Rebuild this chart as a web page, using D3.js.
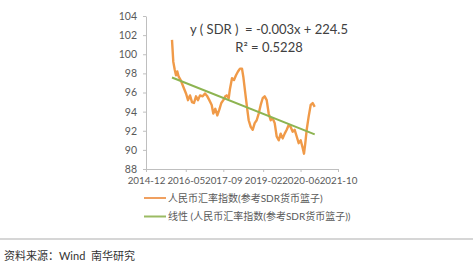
<!DOCTYPE html>
<html><head><meta charset="utf-8">
<script src="https://cdn.jsdelivr.net/npm/d3@7"></script>
<style>
html,body{margin:0;padding:0;background:#fff;}
svg{display:block;font-family:Lato,"Noto Sans CJK SC",sans-serif;}
</style></head>
<body><svg id="c" width="473" height="267"></svg>
<script>
const dates = ["2015-11-04","2015-11-21","2015-12-09","2015-12-26","2016-01-12","2016-01-30","2016-02-25","2016-03-30","2016-05-04","2016-05-30","2016-06-25","2016-07-21","2016-08-16","2016-09-11","2016-10-07","2016-11-02","2016-12-07","2017-01-06","2017-02-05","2017-03-03","2017-04-03","2017-04-24","2017-05-20","2017-06-15","2017-07-11","2017-08-06","2017-09-01","2017-09-27","2017-10-15","2017-11-10","2017-11-27","2017-12-23","2018-01-18","2018-02-13","2018-03-11","2018-04-06","2018-05-02","2018-05-19","2018-06-14","2018-07-10","2018-07-28","2018-08-23","2018-09-18","2018-10-14","2018-11-09","2018-12-05","2018-12-31","2019-01-26","2019-02-21","2019-03-19","2019-04-14","2019-05-10","2019-06-05","2019-07-01","2019-07-27","2019-08-22","2019-09-17","2019-10-13","2019-11-08","2019-12-04","2019-12-30","2020-01-25","2020-02-20","2020-03-17","2020-04-12","2020-05-08","2020-06-03","2020-06-29","2020-07-16","2020-08-02","2020-08-20","2020-09-15","2020-10-11","2020-11-06","2020-12-02"];
const sdrIndex = [101.5,99.2,98.4,97.8,98.2,97.65,97.3,96.6,95.9,95.2,95.7,95.0,94.9,95.6,95.2,95.7,95.6,95.9,95.6,95.2,94.7,93.8,94.3,93.6,94.2,94.9,95.2,95.6,95.7,95.4,96.4,97.5,97.3,97.8,98.2,98.5,98.5,97.65,95.9,94.2,93.1,92.4,92.1,92.8,93.1,93.8,94.7,95.4,95.6,95.2,93.8,93.1,93.3,92.8,91.4,91.0,91.7,91.2,91.7,92.1,92.6,92.4,91.9,92.1,91.4,90.7,91.0,90.2,89.6,90.7,92.1,93.5,94.7,94.9,94.5];
const xTickLabels = ["2014-12","2016-05","2017-09","2019-02","2020-06","2021-10"];
const yTicks = [88,90,92,94,96,98,100,102,104];
const seriesName = "人民币汇率指数(参考SDR货币篮子)";
const trendName = "线性 (人民币汇率指数(参考SDR货币篮子))";
const equationText = "y ( SDR )  = -0.003x + 224.5";
const r2Text = "R² = 0.5228";
const sourceText = "资料来源：Wind  南华研究";

const parse = d3.timeParse("%Y-%m-%d");
const parseM = d3.timeParse("%Y-%m");
const data = dates.map((d,i)=>({date:parse(d), v:sdrIndex[i]}));
const svg = d3.select("#c");

const x = d3.scaleTime().domain([parseM(xTickLabels[0]), parseM(xTickLabels[xTickLabels.length-1])]).range([146,338]);
const y = d3.scaleLinear().domain([88,104]).range([169,16]);

const axisColor = "#bfbfbf", textColor = "#595959";

const ya = svg.append("g").attr("transform","translate(146,0)")
  .call(d3.axisLeft(y).tickValues(yTicks).tickSize(3).tickSizeOuter(0).tickFormat(d3.format("d")));
const xa = svg.append("g").attr("transform","translate(0,169)")
  .call(d3.axisBottom(x).tickValues(xTickLabels.map(parseM)).tickSize(3).tickSizeOuter(0).tickFormat(d3.timeFormat("%Y-%m")));
[ya,xa].forEach(a=>{
  a.selectAll("path,line").attr("stroke",axisColor);
  a.selectAll("text").attr("fill",textColor).style("font-family","Lato,sans-serif").style("font-size","10.5px");
});
xa.selectAll("text").style("font-size","9.8px").attr("y",8);
ya.selectAll("text").attr("x",-9);

// series line
svg.append("path").datum(data)
  .attr("fill","none").attr("stroke","#F09A48").attr("stroke-width",2.4).attr("stroke-linejoin","round")
  .attr("d", d3.line().x(d=>x(d.date)).y(d=>y(d.v)));

// least squares trend
const xs = data.map(d=>d.date.getTime()/864e5), vs = data.map(d=>d.v);
const mx = d3.mean(xs), mv = d3.mean(vs);
const slope = d3.sum(xs.map((t,i)=>(t-mx)*(vs[i]-mv))) / d3.sum(xs.map(t=>(t-mx)*(t-mx)));
const icpt = mv - slope*mx;
const ends = [data[0].date, data[data.length-1].date];
svg.append("path").datum(ends)
  .attr("fill","none").attr("stroke","#8DB451").attr("stroke-width",2)
  .attr("d", d3.line().x(d=>x(d)).y(d=>y(icpt + slope*d.getTime()/864e5)));

svg.append("text").attr("x",269).attr("y",34).attr("text-anchor","middle").attr("fill","#404040")
  .style("font-size","13px").style("white-space","pre").text(equationText);
svg.append("text").attr("x",269).attr("y",52).attr("text-anchor","middle").attr("fill","#404040")
  .style("font-size","13px").text(r2Text);

// legend
const leg = [{name:seriesName,color:"#F0A060",y:198},{name:trendName,color:"#9BBB63",y:216.5}];
leg.forEach(l=>{
  svg.append("line").attr("x1",144).attr("x2",166).attr("y1",l.y).attr("y2",l.y).attr("stroke",l.color).attr("stroke-width",2);
  svg.append("text").attr("x",168).attr("y",l.y+3.5).attr("fill",textColor).style("font-size","10px").text(l.name);
});

svg.append("line").attr("x1",0).attr("x2",473).attr("y1",239).attr("y2",239).attr("stroke","#c8c8c8").attr("stroke-width",1.5);
svg.append("text").attr("x",4).attr("y",260).attr("fill","#333").style("font-size","11px").style("white-space","pre").text(sourceText);
</script></body></html>
